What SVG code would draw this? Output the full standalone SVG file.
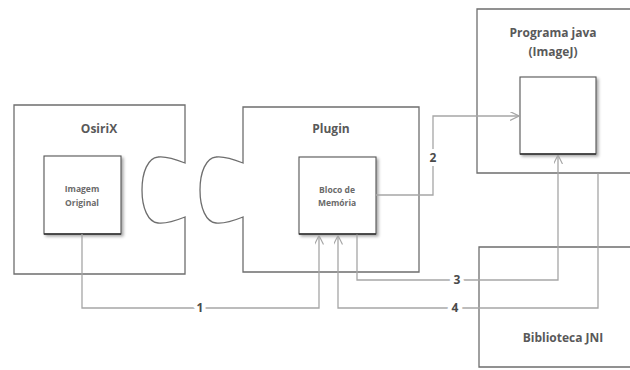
<svg xmlns="http://www.w3.org/2000/svg" width="630" height="370" viewBox="0 0 630 370">
<style>
.outer{fill:#fff;stroke:#6e6e6e;stroke-width:1.3}
.inner{fill:#fff;stroke:#555;stroke-width:1.1}
.conn{fill:none;stroke:#a6a6a6;stroke-width:1.3}
.title{font-family:"Open Sans","Noto Sans",sans-serif;font-weight:bold;font-size:12px;fill:#595959;text-anchor:middle}
.small{font-family:"Open Sans","Noto Sans",sans-serif;font-weight:bold;font-size:8.5px;fill:#6a6a6a;text-anchor:middle}
.lbl{font-family:"Open Sans","Noto Sans",sans-serif;font-weight:bold;font-size:12px;fill:#4a4a4a;text-anchor:middle;stroke:#fff;stroke-width:8;paint-order:stroke}
</style>
<defs>
<marker id="arr" viewBox="0 0 10 10" refX="10" refY="5" markerWidth="9" markerHeight="9" markerUnits="userSpaceOnUse" orient="auto">
<path d="M0,0 L10,5 L0,10" fill="none" stroke="#a6a6a6" stroke-width="1.3"/>
</marker>
<filter id="sh" x="-10%" y="-10%" width="130%" height="130%">
<feDropShadow dx="2" dy="2" stdDeviation="1.5" flood-color="#000" flood-opacity="0.35"/>
</filter>
</defs>
<g id="osirix">
<path class="outer" d="M14,105 H185 V163 C175,159 165,156 158,157 C148,158 142,172 142,190 C142,208 148,222 158,223 C165,224 175,221 185,217 V274 H14 Z"/>
<text class="title" x="99" y="133">OsiriX</text>
</g>
<g id="imagem">
<rect class="inner" x="44" y="156" width="77" height="78" filter="url(#sh)"/>
<line x1="44" y1="234" x2="121" y2="234" stroke="#333" stroke-width="1.6"/>
<text class="small" x="82" y="192">Imagem</text>
<text class="small" x="82" y="206">Original</text>
</g>
<g id="plugin">
<path class="outer" d="M243,107 H419 V272 H243 V217 C233,221 223,224 216,223 C206,222 200,208 200,190 C200,172 206,158 216,157 C223,156 233,159 243,163 Z"/>
<text class="title" x="331" y="133">Plugin</text>
</g>
<g id="bloco">
<rect class="inner" x="299" y="157" width="77" height="77" filter="url(#sh)"/>
<line x1="299" y1="234" x2="376" y2="234" stroke="#333" stroke-width="1.6"/>
<text class="small" x="337" y="193">Bloco de</text>
<text class="small" x="337" y="206">Memória</text>
</g>
<g id="programa">
<path class="outer" d="M632,9 H477 V173 H632"/>
<text class="title" x="553" y="37">Programa java</text>
<text class="title" x="553" y="56">(ImageJ)</text>
</g>
<g id="imagej">
<rect class="inner" x="520" y="77" width="76" height="77" filter="url(#sh)"/>
<line x1="520" y1="154" x2="596" y2="154" stroke="#333" stroke-width="1.6"/>
</g>
<g id="jni">
<path class="outer" d="M632,247 H479 V367 H632"/>
<text class="title" x="563" y="342">Biblioteca JNI</text>
</g>
<g id="connectors">
<path class="conn" d="M82,234 V308 H319 V235.5" marker-end="url(#arr)"/>
<path class="conn" d="M376,195 H433 V116 H519" marker-end="url(#arr)"/>
<path class="conn" d="M357,234.5 V280 H558 V155" marker-end="url(#arr)"/>
<path class="conn" d="M598,173.5 V308 H338 V235.5" marker-end="url(#arr)"/>
<text class="lbl" x="200" y="312">1</text>
<text class="lbl" x="433" y="162">2</text>
<text class="lbl" x="457" y="284">3</text>
<text class="lbl" x="455" y="312">4</text>
</g>
</svg>
